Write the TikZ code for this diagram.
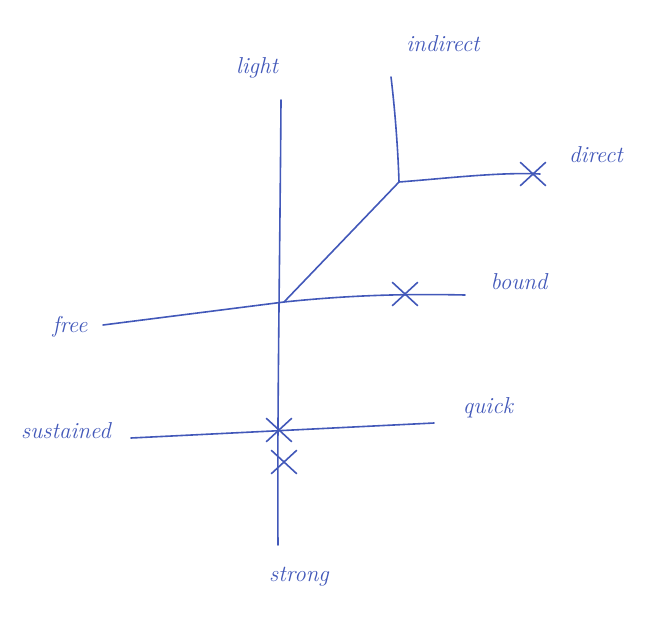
\documentclass[tikz,border=0pt]{standalone}
\usetikzlibrary{shapes.misc}
\definecolor{ink}{RGB}{66,88,185}
\begin{document}
\begin{tikzpicture}[x=1pt,y=-1pt,
  stroke/.style={draw=ink,line width=1.6pt,line cap=round},
  xmark/.style={cross out,draw=ink,line width=1.6pt,minimum width=24pt,minimum height=22pt,inner sep=0pt},
  lbl/.style={text=ink,font=\fontsize{23}{26}\selectfont\itshape,inner sep=1pt}]
\useasboundingbox (0,0) rectangle (652,629);
% main vertical axis
\coordinate (vtop) at (281,100);
\coordinate (vbot) at (278,545);
\coordinate (c) at (284,302);
\draw[stroke] (vtop) .. controls (280,250) and (277,420) .. (vbot);
% free - bound
\coordinate (fl) at (103,325);
\coordinate (br) at (465,295);
\draw[stroke] (fl) -- (c) .. controls (360,294) and (420,294) .. (br);
\node[xmark] (xb) at (405,294) {};
% diagonal and indirect/direct
\coordinate (k) at (399,182);
\coordinate (itop) at (391,77);
\coordinate (dr) at (540,174);
\draw[stroke] (c) -- (k);
\draw[stroke] (itop) .. controls (395,110) and (398,150) .. (k) .. controls (450,178) and (500,172) .. (dr);
\node[xmark] (xd) at (533,174) {};
% sustained - quick
\coordinate (sl) at (131,438);
\coordinate (qr) at (434,423);
\draw[stroke] (sl) -- (qr);
\node[xmark] (xs1) at (279,430) {};
\node[xmark] (xs2) at (284,462) {};
% labels
\node[lbl] (light) at (257,68) {light};
\node[lbl] (indirect) at (443,44) {indirect};
\node[lbl] (direct) at (596,155) {direct};
\node[lbl] (bound) at (519,282) {bound};
\node[lbl] (free) at (70,327) {free};
\node[lbl] (sustained) at (66,431) {sustained};
\node[lbl] (quick) at (488,408) {quick};
\node[lbl] (strong) at (299,577) {strong};
\end{tikzpicture}
\end{document}
